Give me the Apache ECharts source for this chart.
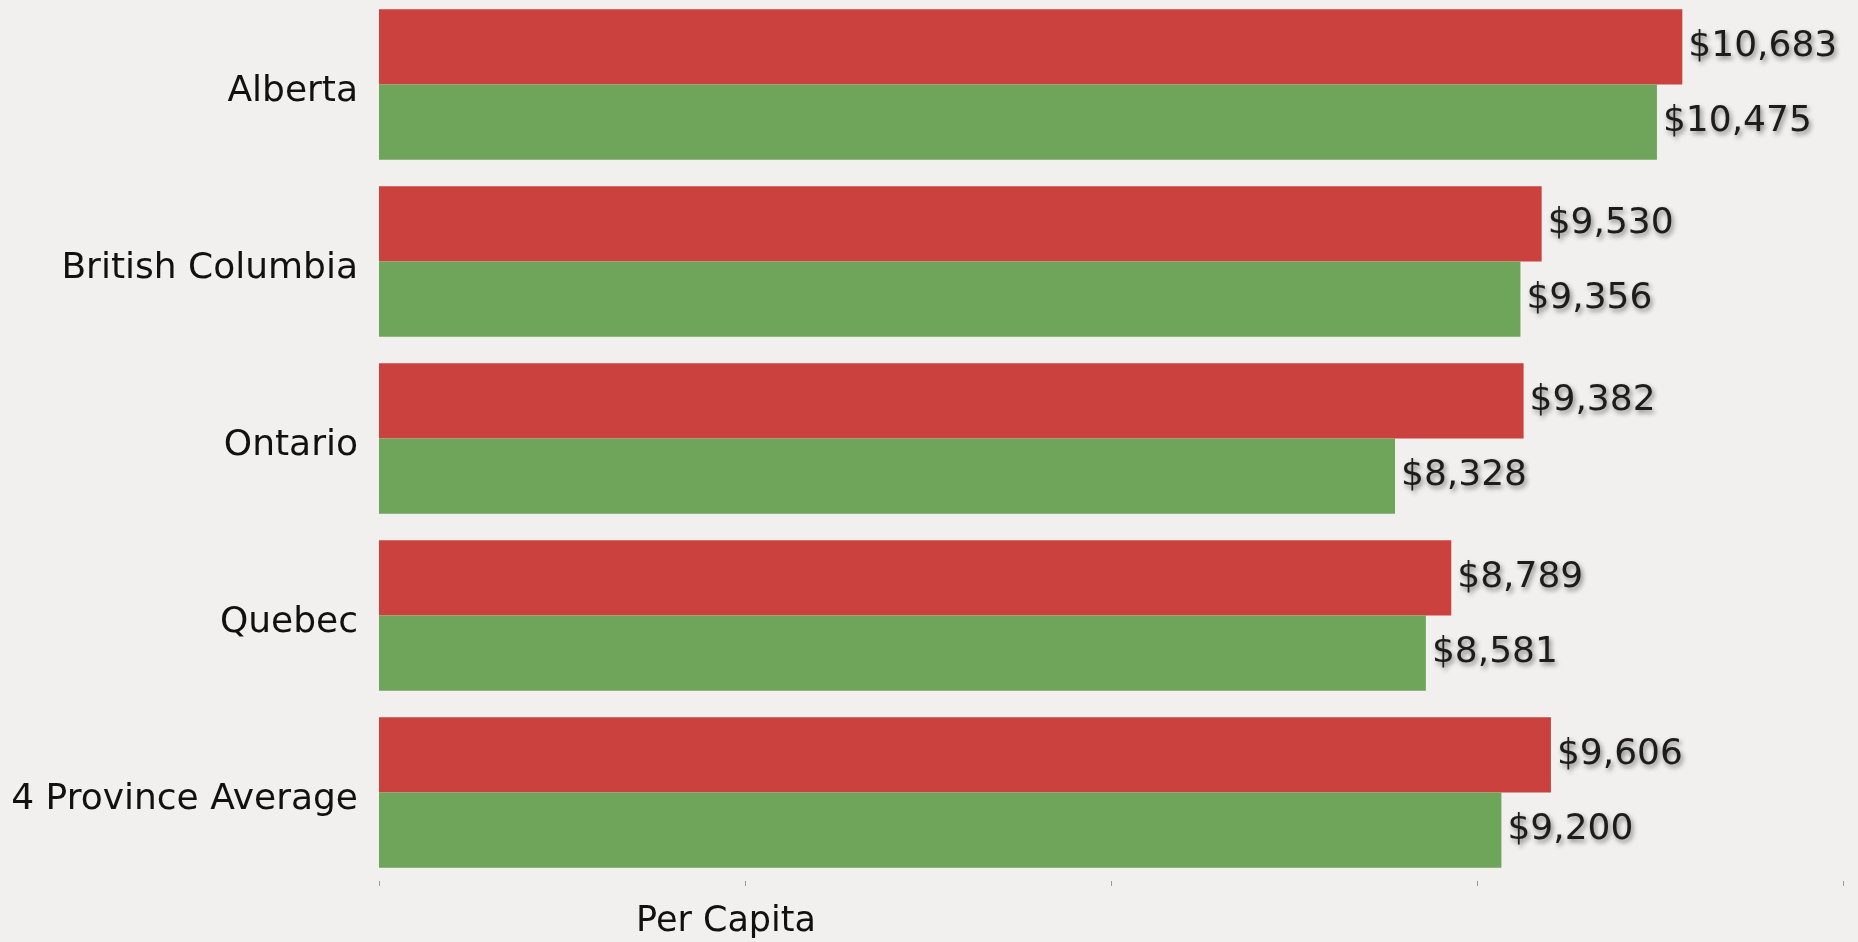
<!DOCTYPE html>
<html>
<head>
<meta charset="utf-8">
<script src="https://cdn.jsdelivr.net/npm/echarts@6/dist/echarts.min.js"></script>
<style>
html,body{margin:0;padding:0;background:#f1f0ee;overflow:hidden;}
#c{width:1858px;height:946px;margin-top:-4px;}
</style>
</head>
<body>
<div id="c"></div>
<script>
const categories = ['Alberta', 'British Columbia', 'Ontario', 'Quebec', '4 Province Average'];
const redValues = [10683, 9530, 9382, 8789, 9606];
const greenValues = [10475, 9356, 8328, 8581, 9200];
const xTicks = [0, 3000, 6000, 9000, 12000];

const FONT = '"DejaVu Sans", sans-serif';
const labelStyle = {
  show: true,
  position: 'right',
  distance: 6,
  fontFamily: FONT,
  fontSize: 36,
  color: '#1c1c1c',
  textShadowColor: 'rgba(0,0,0,0.45)',
  textShadowBlur: 5,
  textShadowOffsetX: 2,
  textShadowOffsetY: 3,
  formatter: p => '$' + p.value.toLocaleString('en-US')
};

const chart = echarts.init(document.getElementById('c'));
chart.setOption({
  backgroundColor: '#f1f0ee',
  animation: false,
  grid: {left: 379, right: 15, top: 0, bottom: 61, containLabel: false},
  xAxis: {
    type: 'value',
    min: xTicks[0],
    max: xTicks[xTicks.length - 1],
    interval: xTicks[1] - xTicks[0],
    axisLine: {show: false},
    axisTick: {show: true, length: 5, lineStyle: {color: '#9a9a9a', width: 1}},
    axisLabel: {show: false},
    splitLine: {show: false}
  },
  yAxis: {
    type: 'category',
    data: categories,
    inverse: true,
    axisLine: {show: false},
    axisTick: {show: false},
    axisLabel: {
      margin: 21,
      fontFamily: FONT,
      fontSize: 36,
      color: '#111',
      verticalAlign: 'top',
      lineHeight: 14
    }
  },
  graphic: [{
    type: 'text',
    x: 726,
    y: 926,
    style: {
      text: 'Per Capita',
      fontFamily: FONT,
      fontSize: 35,
      fill: '#111',
      align: 'center',
      verticalAlign: 'middle'
    }
  }],
  series: [{
    type: 'bar',
    data: redValues,
    barCategoryGap: '15%',
    barGap: '0%',
    itemStyle: {color: '#cb413e'},
    label: labelStyle
  }, {
    type: 'bar',
    data: greenValues,
    barCategoryGap: '15%',
    barGap: '0%',
    itemStyle: {color: '#6fa55a'},
    label: labelStyle
  }]
});
</script>
</body>
</html>
